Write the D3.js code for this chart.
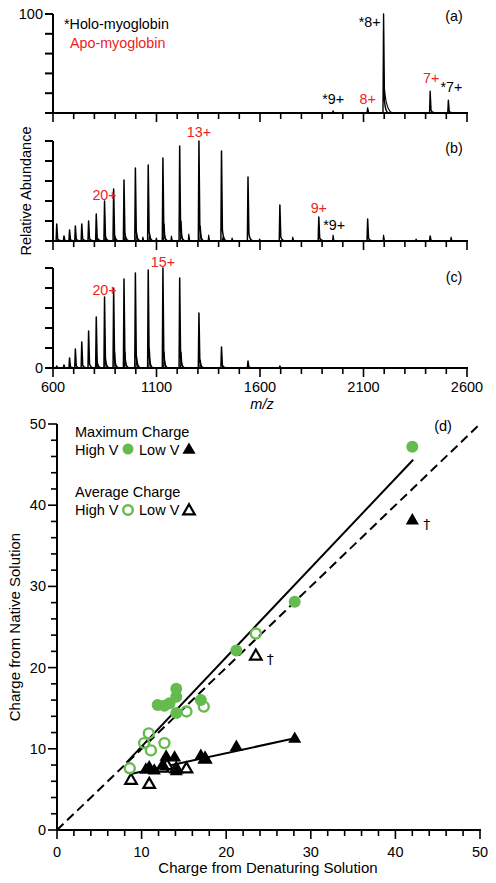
<!DOCTYPE html>
<html><head><meta charset="utf-8">
<script src="https://cdn.jsdelivr.net/npm/d3@7"></script>
<style>
body{margin:0;background:#fff}
svg{display:block}
text{font-family:"Liberation Sans",Arial,Helvetica,sans-serif;}
</style>
</head><body>
<svg id="chart" width="496" height="883"></svg>
<script>
// ---------- DATA: spectra ----------
const mzTicks = [600, 1100, 1600, 2100, 2600];
const mzMinor = [600,700,800,900,1000,1100,1200,1300,1400,1500,1600,1700,1800,1900,2000,2100,2200,2300,2400,2500,2600];
const abundTicks = [0, 20, 40, 60, 80, 100];

// panel (a): native
const peaksA_mz = [1953, 2120, 2197, 2422, 2510];
const peaksA_h  = [2, 5, 100, 22, 13];

// apo-myoglobin charge-state series (m/z)
const apoMz = [618, 653, 680, 708, 739, 772, 809, 849, 893, 943, 998, 1060, 1131, 1212, 1305, 1414, 1542, 1696, 1884, 2120, 2422];
const apoB  = [17, 5, 11, 15, 17, 20, 27, 40, 52, 61, 73, 76, 83, 95, 100, 90, 64, 36, 24, 22, 5];
const apoC  = [2, 3, 10, 19, 26, 37, 51, 71, 80, 89, 95, 98, 100, 90, 55, 21, 7, 2, 0, 0, 0];

// minor peaks (adducts / holo) panel (b)
const minorB_mz = [812, 852, 898, 948, 1003, 1034, 1066, 1099, 1137, 1172, 1219, 1256, 1312, 1352, 1421, 1465, 1598, 1758, 1953, 2197, 2354, 2523];
const minorB_h  = [3, 4, 5, 7, 11, 4, 7, 3, 17, 5, 20, 7, 15, 6, 4, 3, 2, 4, 6, 6, 2, 4];
// minor peaks panel (c)
const minorC_mz = [812, 852, 898, 948, 1003, 1066, 1137, 1219, 1312, 1421];
const minorC_h  = [9, 15, 16, 16, 14, 19, 16, 16, 8, 2];

// ---------- DATA: charge correlation (d) ----------
const maxHighX = [11.9, 12.7, 13.3, 14.1, 14.1, 14.1, 17.0, 21.2, 28.1, 42.0];
const maxHighY = [15.4, 15.3, 15.6, 17.4, 16.4, 14.4, 16.0, 22.1, 28.1, 47.2];
const avgHighX = [8.6, 10.85, 10.3, 11.1, 12.7, 15.3, 17.35, 23.5];
const avgHighY = [7.6, 11.9, 10.7, 9.8, 10.7, 14.6, 15.2, 24.2];
const maxLowX = [10.5, 10.9, 11.5, 12.5, 12.9, 13.9, 14.1, 17.0, 17.5, 21.2, 28.1, 42.0];
const maxLowY = [7.4, 7.7, 7.3, 8.0, 9.0, 8.9, 7.2, 9.1, 8.8, 10.2, 11.2, 38.1];
const avgLowX = [8.75, 10.9, 12.5, 13.0, 14.1, 15.3, 17.5, 23.5];
const avgLowY = [6.1, 5.6, 7.6, 7.9, 7.5, 7.5, 8.7, 21.4];
const fitHigh = [[8.2, 8.3], [42.1, 45.6]];
const fitLow  = [[8.7, 6.9], [28.1, 11.3]];
const identity = [[0, 0], [50, 50]];
const daggerPts = [[42.0, 38.1], [23.5, 21.4]];
const dTicks = [0, 10, 20, 30, 40, 50];

// ---------- DRAW ----------
const svg = d3.select("#chart");
const RED = "#ee2222", GREEN = "#66bb4f";
const FS = 14.5;
const x = d3.scaleLinear().domain([600, 2600]).range([53, 467]);

const panels = [
  {top: 14, base: 113},
  {top: 141, base: 241},
  {top: 268, base: 368}
];

function drawPanelAxes(p) {
  const y = d3.scaleLinear().domain([0, 100]).range([p.base, p.top]);
  const g = svg.append("g");
  g.append("line").attr("x1", 53).attr("x2", 53).attr("y1", p.top).attr("y2", p.base)
    .attr("stroke", "#000").attr("stroke-width", 2);
  g.selectAll(".yt").data(abundTicks).join("line")
    .attr("x1", 45).attr("x2", 53).attr("y1", d => y(d)).attr("y2", d => y(d))
    .attr("stroke", "#000").attr("stroke-width", 2);
  g.append("line").attr("x1", 52).attr("x2", 468).attr("y1", p.base).attr("y2", p.base)
    .attr("stroke", "#000").attr("stroke-width", 2);
  g.selectAll(".xt").data(mzMinor).join("line")
    .attr("x1", d => x(d)).attr("x2", d => x(d)).attr("y1", p.base)
    .attr("y2", d => p.base + (mzTicks.includes(d) ? 9 : 6))
    .attr("stroke", "#000").attr("stroke-width", 1.6);
  return y;
}

function peakPath(xp, yb, yt) {
  const tailH = Math.max(0, (yb - yt) * 0.12);
  return `M${xp - 0.6},${yb} L${xp},${yt} L${xp + 0.9},${yb - tailH} Q${xp + 2},${yb} ${xp + 5},${yb - 0.3}`;
}

function drawPeaks(mzArr, hArr, y, p, sw) {
  svg.append("g").selectAll("path").data(mzArr.map((m, i) => [m, hArr[i]]).filter(d => d[1] > 0))
    .join("path")
    .attr("d", d => peakPath(x(d[0]), p.base, y(d[1])))
    .attr("fill", "none").attr("stroke", "#000").attr("stroke-width", sw)
    .attr("stroke-linejoin", "round");
}

const yA = drawPanelAxes(panels[0]);
drawPeaks(peaksA_mz, peaksA_h, yA, panels[0], 1.4);
svg.append("path")
  .attr("d", `M${x(2197)},${yA(40)} Q${x(2197)+1},${yA(4)} ${x(2197)+8},${yA(0.5)}`)
  .attr("fill", "none").attr("stroke", "#000").attr("stroke-width", 1.2);
const yB = drawPanelAxes(panels[1]);
drawPeaks(minorB_mz, minorB_h, yB, panels[1], 1.1);
drawPeaks(apoMz, apoB, yB, panels[1], 1.5);
const yC = drawPanelAxes(panels[2]);
drawPeaks(minorC_mz, minorC_h, yC, panels[2], 1.1);
drawPeaks(apoMz, apoC, yC, panels[2], 1.5);

svg.append("text").attr("x", 43).attr("y", yA(100) + 5).attr("text-anchor", "end")
  .attr("font-size", FS).text("100");
svg.append("text").attr("x", 43).attr("y", yC(0) + 5).attr("text-anchor", "end")
  .attr("font-size", FS).text("0");
svg.append("g").selectAll("text").data(mzTicks).join("text")
  .attr("x", d => x(d)).attr("y", 392).attr("text-anchor", "middle")
  .attr("font-size", FS).text(d => d);
svg.append("text").attr("x", 262).attr("y", 409).attr("text-anchor", "middle")
  .attr("font-size", FS).attr("font-style", "italic").text("m/z");
svg.append("text").attr("transform", "translate(31,191) rotate(-90)")
  .attr("text-anchor", "middle").attr("font-size", FS).text("Relative Abundance");

function label(tx, ty, s, col, anchor) {
  svg.append("text").attr("x", tx).attr("y", ty).attr("font-size", 14.3)
    .attr("fill", col).attr("text-anchor", anchor || "start").text(s);
}
label(64, 29, "*Holo-myoglobin", "#000");
label(70, 48, "Apo-myoglobin", RED);
label(454, 21, "(a)", "#000", "middle");
label(454, 153, "(b)", "#000", "middle");
label(454, 282, "(c)", "#000", "middle");
label(x(2197) - 3, 27, "*8+", "#000", "end");
label(x(2422) + 1, 83, "7+", RED, "middle");
label(x(2510) + 3, 92, "*7+", "#000", "middle");
label(x(1953), 104, "*9+", "#000", "middle");
label(x(2120), 104, "8+", RED, "middle");
label(x(849), 200, "20+", RED, "middle");
label(x(1305), 137, "13+", RED, "middle");
label(x(1884), 213, "9+", RED, "middle");
label(x(1953) + 1, 230, "*9+", "#000", "middle");
label(x(1131), 267, "15+", RED, "middle");
label(x(849), 295, "20+", RED, "middle");

// ---------- Panel d ----------
const xD = d3.scaleLinear().domain([0, 50]).range([57, 480]);
const yD = d3.scaleLinear().domain([0, 50]).range([830, 424]);
const minorD = d3.range(0, 51, 2);
const gd = svg.append("g");
gd.append("line").attr("x1", 57).attr("x2", 57).attr("y1", yD(50)).attr("y2", yD(0) + 1)
  .attr("stroke", "#000").attr("stroke-width", 2);
gd.append("line").attr("x1", 56).attr("x2", xD(50) + 1).attr("y1", 830).attr("y2", 830)
  .attr("stroke", "#000").attr("stroke-width", 2);
gd.selectAll(".ydt").data(minorD).join("line")
  .attr("x1", d => 57 - (d % 10 === 0 ? 9 : 6)).attr("x2", 57)
  .attr("y1", d => yD(d)).attr("y2", d => yD(d)).attr("stroke", "#000").attr("stroke-width", 1.6);
gd.selectAll(".xdt").data(minorD).join("line")
  .attr("x1", d => xD(d)).attr("x2", d => xD(d))
  .attr("y1", 830).attr("y2", d => 830 + (d % 10 === 0 ? 9 : 6)).attr("stroke", "#000").attr("stroke-width", 1.6);
gd.selectAll(".ydl").data(dTicks).join("text")
  .attr("x", 46).attr("y", d => yD(d) + 5).attr("text-anchor", "end").attr("font-size", FS).text(d => d);
gd.selectAll(".xdl").data(dTicks).join("text")
  .attr("x", d => xD(d)).attr("y", 857).attr("text-anchor", "middle").attr("font-size", FS).text(d => d);
gd.append("text").attr("x", 268).attr("y", 873).attr("text-anchor", "middle").attr("font-size", 15)
  .text("Charge from Denaturing Solution");
gd.append("text").attr("transform", `translate(20,${627}) rotate(-90)`).attr("text-anchor", "middle")
  .attr("font-size", 15).text("Charge from Native Solution");
gd.append("text").attr("x", 443).attr("y", 431).attr("text-anchor", "middle").attr("font-size", FS).text("(d)");

const line = d3.line().x(d => xD(d[0])).y(d => yD(d[1]));
gd.append("path").attr("d", line(identity)).attr("stroke", "#000").attr("stroke-width", 2)
  .attr("stroke-dasharray", "9,5").attr("fill", "none");
gd.append("path").attr("d", line(fitHigh)).attr("stroke", "#000").attr("stroke-width", 2).attr("fill", "none");
gd.append("path").attr("d", line(fitLow)).attr("stroke", "#000").attr("stroke-width", 2).attr("fill", "none");

const tri = d3.symbol().type(d3.symbolTriangle);
gd.selectAll(".ot").data(avgLowX.map((v, i) => [v, avgLowY[i]])).join("path")
  .attr("transform", d => `translate(${xD(d[0])},${yD(d[1])})`)
  .attr("d", tri.size(58)()).attr("fill", "#fff").attr("stroke", "#000").attr("stroke-width", 2.2);
gd.selectAll(".ft").data(maxLowX.map((v, i) => [v, maxLowY[i]])).join("path")
  .attr("transform", d => `translate(${xD(d[0])},${yD(d[1])})`)
  .attr("d", tri.size(75)()).attr("fill", "#000");
gd.selectAll(".fc").data(maxHighX.map((v, i) => [v, maxHighY[i]])).join("circle")
  .attr("cx", d => xD(d[0])).attr("cy", d => yD(d[1])).attr("r", 6).attr("fill", GREEN);
gd.selectAll(".oc").data(avgHighX.map((v, i) => [v, avgHighY[i]])).join("circle")
  .attr("cx", d => xD(d[0])).attr("cy", d => yD(d[1])).attr("r", 5).attr("fill", "none")
  .attr("stroke", GREEN).attr("stroke-width", 2.4);
gd.selectAll(".dg").data(daggerPts).join("text")
  .attr("x", d => xD(d[0]) + 11).attr("y", d => yD(d[1]) + 8).attr("font-size", 14)
  .attr("fill", "#000").style("font-family", "'DejaVu Sans', sans-serif").text("†");

const lg = svg.append("g").attr("font-size", FS);
lg.append("text").attr("x", 75).attr("y", 437).text("Maximum Charge");
lg.append("text").attr("x", 75).attr("y", 455).text("High V");
lg.append("circle").attr("cx", 128).attr("cy", 449).attr("r", 5.5).attr("fill", GREEN);
lg.append("text").attr("x", 139).attr("y", 455).text("Low V");
lg.append("path").attr("transform", "translate(189,450)").attr("d", tri.size(75)()).attr("fill", "#000");
lg.append("text").attr("x", 75).attr("y", 497).text("Average Charge");
lg.append("text").attr("x", 75).attr("y", 515).text("High V");
lg.append("circle").attr("cx", 128).attr("cy", 510).attr("r", 4.8).attr("fill", "none")
  .attr("stroke", GREEN).attr("stroke-width", 2.4);
lg.append("text").attr("x", 139).attr("y", 515).text("Low V");
lg.append("path").attr("transform", "translate(189,511)").attr("d", tri.size(58)())
  .attr("fill", "#fff").attr("stroke", "#000").attr("stroke-width", 2.2);
</script>
</body></html>
